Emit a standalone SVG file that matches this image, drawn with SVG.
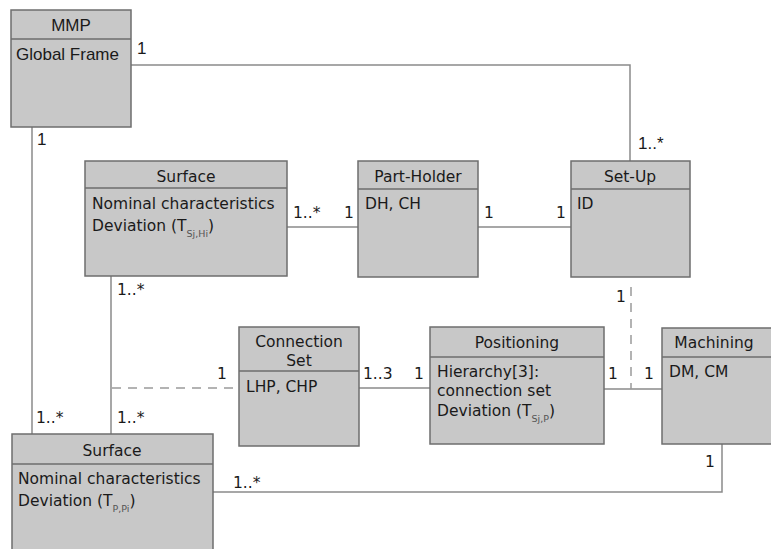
<svg xmlns="http://www.w3.org/2000/svg" width="771" height="549" viewBox="0 0 771 549">
<style>
.box{fill:#c8c8c8;stroke:#6e6e6e;stroke-width:1.5}
.sep{stroke:#6e6e6e;stroke-width:1.5}
.t{font-family:"DejaVu Sans",Verdana,sans-serif;font-size:15.5px;fill:#1a1a1a}
.a{font-family:"Liberation Sans",Arial,sans-serif;font-size:17px;fill:#1a1a1a}
.h{text-anchor:middle}
.sub{font-size:9.5px;fill:#555}
.c{fill:none;stroke:#8a8a8a;stroke-width:1.5}
.d{fill:none;stroke:#9a9a9a;stroke-width:1.5;stroke-dasharray:9,7}
</style>
<rect width="771" height="549" fill="#ffffff"/>
<g id="connectors">
<polyline class="c" points="131,65 630,65 630,161"/>
<line class="c" x1="32" y1="127" x2="32" y2="434"/>
<line class="c" x1="287" y1="227" x2="358" y2="227"/>
<line class="c" x1="478" y1="227" x2="571" y2="227"/>
<line class="c" x1="111" y1="276" x2="111" y2="434"/>
<line class="d" x1="112" y1="388" x2="239" y2="388"/>
<line class="c" x1="359" y1="388" x2="430" y2="388"/>
<line class="c" x1="604" y1="389" x2="662" y2="389"/>
<line class="d" x1="631" y1="287" x2="631" y2="389"/>
<polyline class="c" points="722,444 722,492 213,492"/>
</g>
<g id="labels">
<text class="a" x="137" y="54">1</text>
<text class="a" x="638" y="149">1..*</text>
<text class="a" x="37" y="145">1</text>
<text class="t" x="293" y="218">1..*</text>
<text class="t" x="344" y="218">1</text>
<text class="t" x="484" y="218">1</text>
<text class="t" x="556" y="218">1</text>
<text class="t" x="117" y="295">1..*</text>
<text class="t" x="616" y="302">1</text>
<text class="t" x="217" y="379">1</text>
<text class="t" x="36" y="423">1..*</text>
<text class="t" x="117" y="423">1..*</text>
<text class="t" x="363" y="379">1..3</text>
<text class="t" x="414" y="379">1</text>
<text class="t" x="608" y="379">1</text>
<text class="t" x="644" y="379">1</text>
<text class="t" x="705" y="467">1</text>
<text class="t" x="233" y="488">1..*</text>
</g>
<g id="mmp">
<rect class="box" x="11" y="10" width="120" height="117"/>
<line class="sep" x1="11" y1="39" x2="131" y2="39"/>
<text class="a h" x="71" y="31">MMP</text>
<text class="a" x="16" y="60">Global Frame</text>
</g>
<g id="surface-top">
<rect class="box" x="85" y="161" width="202" height="115"/>
<line class="sep" x1="85" y1="188" x2="287" y2="188"/>
<text class="t h" x="186" y="182">Surface</text>
<text class="t" x="92" y="209">Nominal characteristics</text>
<text class="t" x="92" y="231">Deviation (T<tspan class="sub" dy="6">Sj,Hi</tspan><tspan dy="-6">)</tspan></text>
</g>
<g id="part-holder">
<rect class="box" x="358" y="161" width="120" height="116"/>
<line class="sep" x1="358" y1="189" x2="478" y2="189"/>
<text class="t h" x="418" y="182">Part-Holder</text>
<text class="t" x="365" y="209">DH, CH</text>
</g>
<g id="set-up">
<rect class="box" x="571" y="161" width="119" height="116"/>
<line class="sep" x1="571" y1="189" x2="690" y2="189"/>
<text class="t h" x="630" y="182">Set-Up</text>
<text class="t" x="577" y="209">ID</text>
</g>
<g id="connection-set">
<rect class="box" x="239" y="327" width="120" height="119"/>
<line class="sep" x1="239" y1="371" x2="359" y2="371"/>
<text class="t h" x="299" y="347">Connection</text>
<text class="t h" x="299" y="366">Set</text>
<text class="t" x="246" y="392">LHP, CHP</text>
</g>
<g id="positioning">
<rect class="box" x="430" y="327" width="174" height="117"/>
<line class="sep" x1="430" y1="357" x2="604" y2="357"/>
<text class="t h" x="517" y="348">Positioning</text>
<text class="t" x="437" y="377">Hierarchy[3]:</text>
<text class="t" x="437" y="396">connection set</text>
<text class="t" x="437" y="416">Deviation (T<tspan class="sub" dy="6">Sj,P</tspan><tspan dy="-6">)</tspan></text>
</g>
<g id="machining">
<rect class="box" x="662" y="328" width="120" height="116"/>
<line class="sep" x1="662" y1="357" x2="782" y2="357"/>
<text class="t h" x="714" y="348">Machining</text>
<text class="t" x="669" y="377">DM, CM</text>
</g>
<g id="surface-bottom">
<rect class="box" x="12" y="434" width="201" height="130"/>
<line class="sep" x1="12" y1="464" x2="213" y2="464"/>
<text class="t h" x="112" y="456">Surface</text>
<text class="t" x="18" y="484">Nominal characteristics</text>
<text class="t" x="18" y="506">Deviation (T<tspan class="sub" dy="6">P,Pi</tspan><tspan dy="-6">)</tspan></text>
</g>
</svg>
